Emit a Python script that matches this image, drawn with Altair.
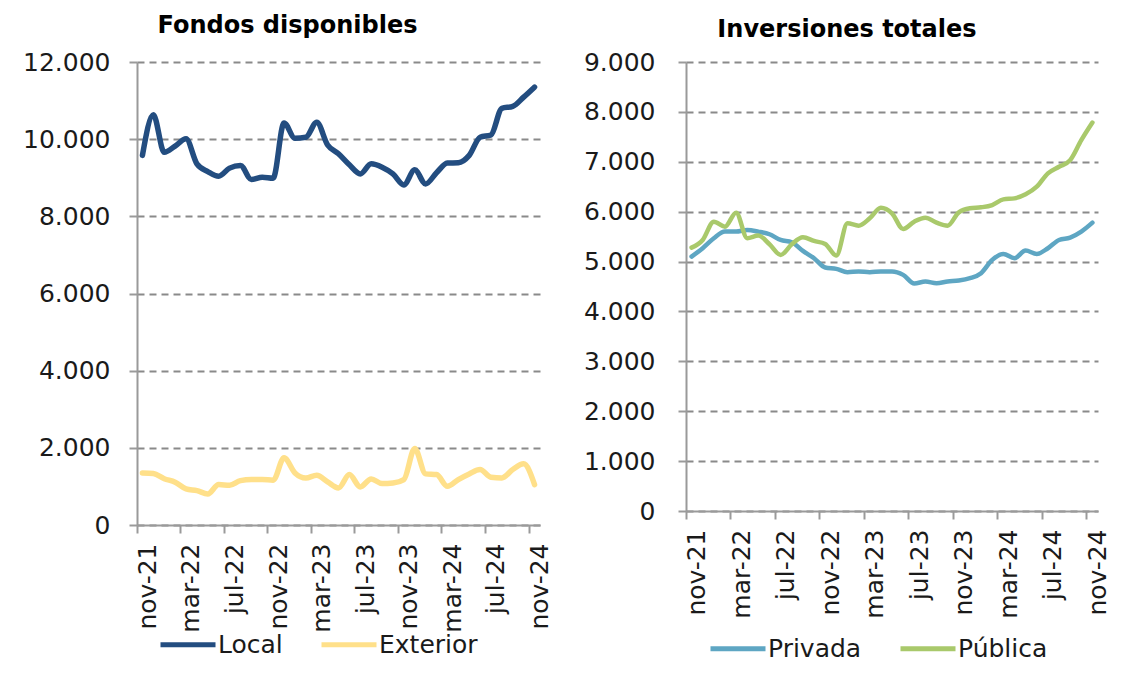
import altair as alt
import pandas as pd

months = [
    "nov-21", "dic-21", "ene-22", "feb-22", "mar-22", "abr-22", "may-22", "jun-22",
    "jul-22", "ago-22", "sep-22", "oct-22", "nov-22", "dic-22", "ene-23", "feb-23",
    "mar-23", "abr-23", "may-23", "jun-23", "jul-23", "ago-23", "sep-23", "oct-23",
    "nov-23", "dic-23", "ene-24", "feb-24", "mar-24", "abr-24", "may-24", "jun-24",
    "jul-24", "ago-24", "sep-24", "oct-24", "nov-24",
]

local = [9580, 10630, 9660, 9820, 10010, 9360, 9160, 9040, 9250, 9320, 8955, 9015, 8990,
         10420, 10025, 10050, 10440, 9850, 9620, 9335, 9100, 9360, 9275, 9100, 8815, 9205,
         8840, 9130, 9380, 9390, 9580, 10050, 10110, 10800, 10850, 11090, 11350]
exterior = [1350, 1333, 1200, 1110, 935, 890, 805, 1048, 1030, 1150, 1180, 1180, 1160,
            1740, 1350, 1220, 1290, 1117, 960, 1307, 987, 1195, 1074, 1090, 1178, 1983,
            1325, 1307, 1004, 1178, 1325, 1437, 1238, 1220, 1437, 1585, 1048]
privada = [5100, 5267, 5467, 5600, 5600, 5633, 5600, 5547, 5433, 5387, 5213, 5067, 4880,
           4853, 4787, 4800, 4787, 4800, 4800, 4733, 4560, 4600, 4567, 4600, 4620, 4667,
           4767, 5033, 5153, 5067, 5220, 5153, 5267, 5433, 5480, 5600, 5780]
publica = [5280, 5433, 5800, 5700, 5980, 5467, 5520, 5347, 5133, 5347, 5487, 5413, 5353,
           5120, 5767, 5720, 5867, 6080, 5967, 5653, 5800, 5880, 5780, 5720, 5987, 6067,
           6087, 6133, 6247, 6267, 6347, 6500, 6767, 6900, 7033, 7433, 7787]

left_series = ["Local", "Exterior"]
left_colors = ["#234d80", "#ffe08a"]
right_series = ["Privada", "Pública"]
right_colors = ["#5ea6c3", "#a9c96b"]
left_ticks = [0, 2000, 4000, 6000, 8000, 10000, 12000]
right_ticks = [0, 1000, 2000, 3000, 4000, 5000, 6000, 7000, 8000, 9000]
x_label_months = [months[i] for i in range(0, len(months), 4)]

FONT = "DejaVu Sans"
GRID = "#8a8a8a"
AXIS = "#9a9a9a"
# legend line: path in unit space, spans 5 units (about 55 px at size 484)
LEGEND_LINE = "M-1,0H4"


def long_df(names, arrays):
    rows = []
    for name, arr in zip(names, arrays):
        for m, v in zip(months, arr):
            rows.append({"mes": m, "serie": name, "valor": v})
    return pd.DataFrame(rows)


def panel(title, df, names, colors, ymax, ticks, w, h, stroke_w, legend_x, legend_y,
          title_offset, ylabel_pad):
    bw = w / len(months)
    return alt.Chart(df).mark_line(
        strokeWidth=stroke_w, interpolate="monotone", strokeCap="round", strokeJoin="round"
    ).encode(
        x=alt.X("mes:N", sort=months, bandPosition=0.5,
                scale=alt.Scale(type="band", domain=months, paddingInner=0, paddingOuter=0),
                axis=alt.Axis(values=x_label_months, title=None, labelAngle=-90,
                              labelAlign="right", labelBaseline="middle",
                              bandPosition=0, labelOffset=bw / 2,
                              labelFontSize=25, labelColor="#1a1a1a", labelPadding=10,
                              tickSize=8, tickColor=AXIS, tickWidth=2,
                              domainColor=AXIS, domainWidth=2, grid=False)),
        y=alt.Y("valor:Q", scale=alt.Scale(domain=[0, ymax], nice=False),
                axis=alt.Axis(values=ticks, title=None,
                              labelExpr="replace(format(datum.value, ','), ',', '.')",
                              labelFontSize=25, labelColor="#1a1a1a", labelPadding=ylabel_pad,
                              tickSize=8, tickColor=AXIS, tickWidth=2,
                              domainColor=AXIS, domainWidth=2,
                              grid=True, gridColor=GRID, gridDash=[7, 5], gridWidth=2)),
        color=alt.Color("serie:N", sort=names,
                        scale=alt.Scale(domain=names, range=colors),
                        legend=alt.Legend(title=None, orient="none", direction="horizontal",
                                          legendX=legend_x, legendY=legend_y,
                                          symbolType=LEGEND_LINE, symbolStrokeWidth=5,
                                          symbolSize=484, labelFontSize=25,
                                          labelColor="#1a1a1a", labelOffset=33,
                                          columnPadding=28)),
    ).properties(
        width=w, height=h,
        title=alt.TitleParams(title, fontSize=24, fontWeight="bold", color="#000000",
                              anchor="middle", frame="bounds", offset=title_offset),
    )


left = panel("Fondos disponibles", long_df(left_series, [local, exterior]),
             left_series, left_colors, 12000, left_ticks, 403, 463, 5.5, 21, 569, 12, 19)
right = panel("Inversiones totales", long_df(right_series, [privada, publica]),
              right_series, right_colors, 9000, right_ticks, 412, 449, 4.5, 22, 573, 8, 23)

chart = alt.hconcat(left, right, spacing=30).resolve_scale(
    color="independent"
).resolve_legend(color="independent").configure(
    font=FONT,
).configure_view(stroke=None).properties(
    padding={"left": 14, "top": 6, "right": 0, "bottom": 0}
)

chart.save("out.html", embed_options={"renderer": "svg", "actions": False})
